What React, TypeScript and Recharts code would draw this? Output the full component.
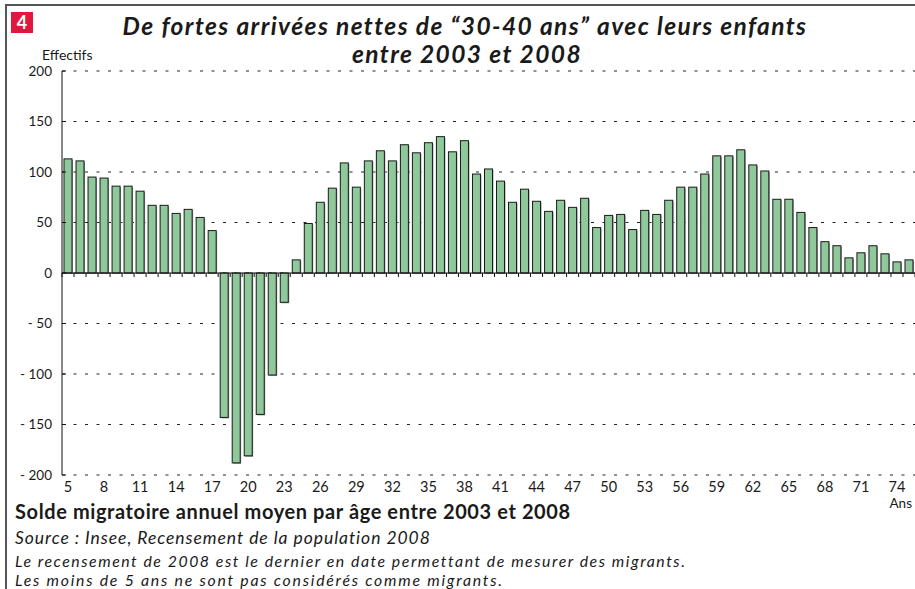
import React from 'react';
import { BarChart, Bar, XAxis, YAxis, CartesianGrid, ReferenceLine } from 'recharts';

const ages = [
  5, 6, 7, 8, 9, 10, 11, 12, 13, 14, 15, 16, 17, 18, 19, 20, 21, 22, 23, 24,
  25, 26, 27, 28, 29, 30, 31, 32, 33, 34, 35, 36, 37, 38, 39, 40, 41, 42, 43, 44,
  45, 46, 47, 48, 49, 50, 51, 52, 53, 54, 55, 56, 57, 58, 59, 60, 61, 62, 63, 64,
  65, 66, 67, 68, 69, 70, 71, 72, 73, 74, 75,
];
const soldes = [
  113, 111, 95, 94, 86, 86, 81, 67, 67, 59, 63, 55, 42,
  -143, -188, -181, -140, -101, -29,
  13, 49, 70, 84, 109, 85, 111, 121, 111, 127, 119, 129, 135, 120, 131, 98, 103, 91, 70, 83, 71,
  61, 72, 65, 74, 45, 57, 58, 43, 62, 58, 72, 85, 85, 98, 116, 116, 122, 107, 101,
  73, 73, 60, 45, 31, 27, 15, 20, 27, 19, 11, 13,
];
const xTicks = [5, 8, 11, 14, 17, 20, 23, 26, 29, 32, 35, 38, 41, 44, 47, 50, 53, 56, 59, 62, 65, 68, 71, 74];
const yTicks = [-200, -150, -100, -50, 0, 50, 100, 150, 200];

const titleLine1 = 'De fortes arrivées nettes de \u201C30-40 ans\u201D avec leurs enfants';
const titleLine2 = 'entre 2003 et 2008';
const yUnit = 'Effectifs';
const xUnit = 'Ans';
const subtitle = 'Solde migratoire annuel moyen par âge entre 2003 et 2008';
const source = 'Source : Insee, Recensement de la population 2008';
const note1 = 'Le recensement de 2008 est le dernier en date permettant de mesurer des migrants.';
const note2 = 'Les moins de 5 ans ne sont pas considérés comme migrants.';

const data = ages.map((age, i) => ({ age, solde: soldes[i] }));

const W = 915;
const H = 589;
const PLOT_LEFT = 62;
const PLOT_W = W - PLOT_LEFT;
const BAND = PLOT_W / ages.length;
const FONT = 'Lato, "Open Sans", sans-serif';

const fmtY = (v: number) => (v < 0 ? `- ${Math.abs(v)}` : `${v}`);

const BarShape = (p: any) => {
  const { x, y, width, height, index } = p;
  const v = p.payload ? p.payload.solde : 0;
  const top = Math.min(y, y + height);
  const h = Math.abs(height);
  const zeroY = v < 0 ? top : top + h;
  const off = (BAND - width) / 2;
  const left = x - off;
  return (
    <g>
      <rect x={x + 1} y={top + (v < 0 ? 0 : 1)} width={width} height={h + (v < 0 ? 1 : 0)} fill="#9a9a9a" />
      <rect x={x} y={top} width={width} height={h} fill="#8fc89a" stroke="#1a1a1a" strokeWidth={1} />
      <line x1={left} x2={left} y1={zeroY} y2={zeroY + 4} stroke="#111" strokeWidth={1} />
      {index === ages.length - 1 && (
        <line x1={left + BAND} x2={left + BAND} y1={zeroY} y2={zeroY + 4} stroke="#111" strokeWidth={1} />
      )}
    </g>
  );
};

const YTick = (p: any) => {
  const { x, y, payload } = p;
  return (
    <g>
      <line x1={PLOT_LEFT} x2={PLOT_LEFT + 4} y1={y} y2={y} stroke="#111" strokeWidth={1} />
      <text x={x} y={y} dy={4.5} textAnchor="end" fontFamily={FONT} fontSize={13.5} fill="#1a1a1a">
        {fmtY(payload.value)}
      </text>
    </g>
  );
};

export default function App() {
  return (
    <div style={{ position: 'absolute', left: 0, top: 0, width: W, height: H, background: '#fff', overflow: 'hidden' }}>
      <BarChart
        width={W}
        height={H}
        data={data}
        margin={{ top: 71, right: 0, left: 10, bottom: 84 }}
        barSize={8}
      >
        <CartesianGrid vertical={false} stroke="#222" strokeDasharray="3 8.5" />
        <XAxis
          dataKey="age"
          ticks={xTicks}
          interval={0}
          axisLine={false}
          tickLine={false}
          tickSize={0}
          tickMargin={7}
          height={30}
          tick={{ fontFamily: FONT, fontSize: 14.5, fill: '#1a1a1a' }}
        />
        <YAxis
          domain={[-200, 200]}
          ticks={yTicks}
          interval={0}
          width={52}
          tickSize={0}
          tickMargin={10}
          tickLine={false}
          axisLine={{ stroke: '#111', strokeWidth: 1 }}
          tick={<YTick />}
        />
        <ReferenceLine y={0} stroke="#111" strokeWidth={1} />
        <Bar dataKey="solde" isAnimationActive={false} shape={<BarShape />} />
      </BarChart>
      <svg width={W} height={H} style={{ position: 'absolute', left: 0, top: 0, pointerEvents: 'none' }}>
        <rect x={6} y={5} width={W + 10} height={H + 10} fill="none" stroke="#555" strokeWidth={2} />
        <rect x={11} y={12} width={22} height={21} fill="#e2173f" />
        <text x={22} y={29} textAnchor="middle" fontFamily={FONT} fontWeight={700} fontSize={18} fill="#fff">4</text>
        <text x={465} y={35} textAnchor="middle" fontFamily={FONT} fontWeight={700} fontStyle="italic" fontSize={24.5} letterSpacing={1.4} fill="#1a1a1a">
          {titleLine1}
        </text>
        <text x={467} y={63} textAnchor="middle" fontFamily={FONT} fontWeight={700} fontStyle="italic" fontSize={24.5} letterSpacing={1.4} fill="#1a1a1a">
          {titleLine2}
        </text>
        <text x={42} y={60} fontFamily={FONT} fontSize={14} fill="#1a1a1a">{yUnit}</text>
        <text x={912} y={508} textAnchor="end" fontFamily={FONT} fontSize={13.5} fill="#1a1a1a">{xUnit}</text>
        <text x={15} y={519} fontFamily={FONT} fontWeight={700} fontSize={20} letterSpacing={0.6} fill="#1a1a1a">{subtitle}</text>
        <text x={15} y={544} fontFamily={FONT} fontStyle="italic" fontSize={17.5} letterSpacing={0.95} fill="#1a1a1a">{source}</text>
        <text x={15} y={567} fontFamily={FONT} fontStyle="italic" fontSize={15.8} letterSpacing={1.55} fill="#1a1a1a">{note1}</text>
        <text x={15} y={586} fontFamily={FONT} fontStyle="italic" fontSize={15.8} letterSpacing={1.76} fill="#1a1a1a">{note2}</text>
      </svg>
    </div>
  );
}
